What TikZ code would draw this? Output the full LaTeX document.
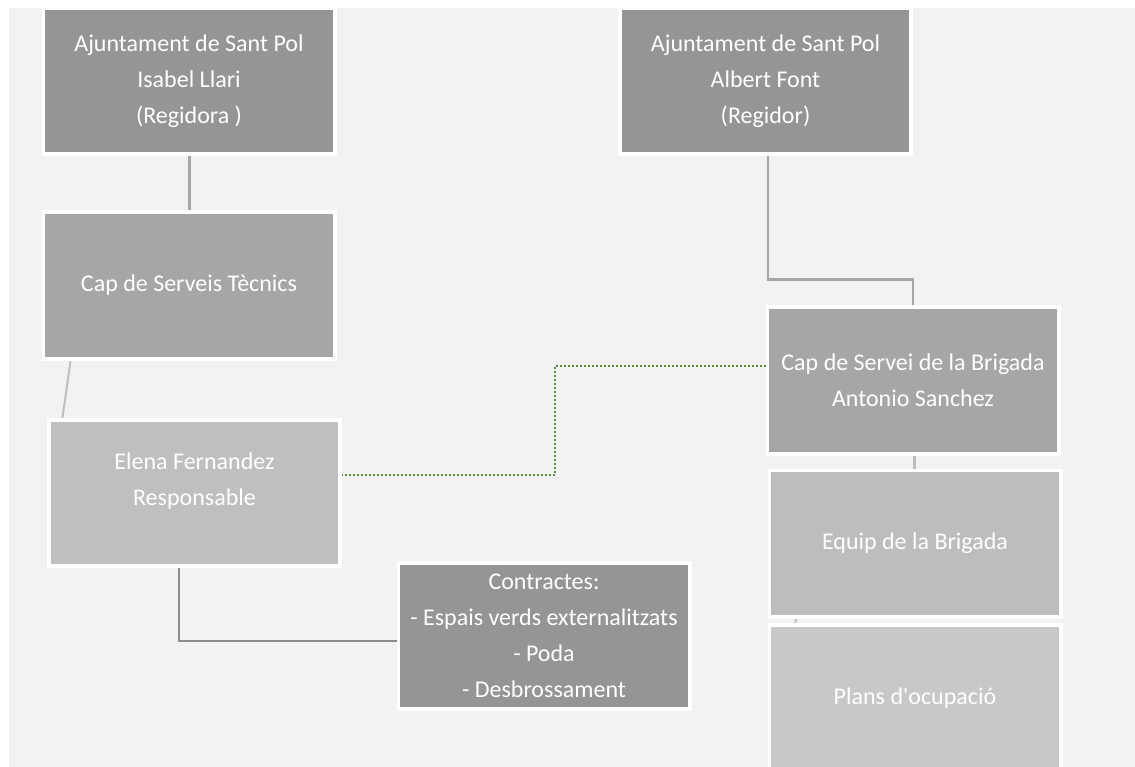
\documentclass[tikz,border=0pt]{standalone}
\usepackage{fontspec}
\setmainfont{Carlito}[Ligatures=TeXOff]
\begin{document}
\begin{tikzpicture}[x=1pt,y=-1pt,
  box/.style={draw=white, line width=2.5pt, minimum width=290pt, minimum height=145pt,
    inner sep=0pt, align=center, text=white, font=\fontsize{24}{36}\selectfont},
  conn/.style={line width=2.5pt, color=black!35},
  green link/.style={line width=2.5pt, dash pattern=on 2pt off 2pt}]
\useasboundingbox (0,0) rectangle (1135,767);
\clip (0,0) rectangle (1135,767);
\definecolor{bgc}{HTML}{F2F2F2}
\definecolor{dk}{HTML}{959595}
\definecolor{md}{HTML}{A6A6A6}
\definecolor{lt}{HTML}{BFBFBF}
\definecolor{eq}{HTML}{BDBDBD}
\definecolor{pl}{HTML}{C8C8C8}
\definecolor{grn}{HTML}{5E8F3E}
\fill[bgc] (9,8) rectangle (1135,767);
% nodes
\node[box, fill=dk] (isabel) at (189,81) {Ajuntament de Sant Pol\\Isabel Llari\\(Regidora )};
\node[box, fill=dk] (albert) at (765.5,81) {Ajuntament de Sant Pol\\Albert Font\\(Regidor)};
\node[box, fill=md] (cap) at (189,285.5) {Cap de Serveis Tècnics};
\node[box, fill=lt] (elena) at (194.5,493) {};
\node[align=center, text=white, font=\fontsize{24}{36}\selectfont, inner sep=0pt] (elenatxt) at (194.5,481) {Elena Fernandez\\Responsable};
\node[box, fill=dk] (contr) at (544,636) {Contractes:\\- Espais verds externalitzats\\- Poda\\- Desbrossament};
\node[box, fill=md] (brig) at (913,380.5) {Cap de Servei de la Brigada\\Antonio Sanchez};
\node[box, fill=eq] (equip) at (915,543.5) {Equip de la Brigada};
\node[box, fill=pl] (plans) at (915,698) {Plans d'ocupació};
% connectors
\coordinate (g1) at (555,475);
\coordinate (g2) at (555,366);
\draw[conn, line width=3pt] (isabel.south) -- (cap.north);
\draw[conn] ([xshift=2.5pt]albert.south) -- ++(0,125) -| (brig.north);
\draw[conn, line width=2pt, color=lt] ([xshift=28pt]cap.south west) -- ([xshift=14pt]elena.north west);
\draw[conn, line width=2pt, color=black!45] ([xshift=131pt,yshift=-1pt]elena.south west) |- ([yshift=-5pt]contr.west);
\draw[green link, color=grn] ([yshift=18pt]elena.east) -- (g1) -- (g2) -- ([yshift=14.5pt]brig.west);
\draw[conn, line width=3pt, color=eq] ([xshift=1pt]brig.south) -- ([xshift=1pt]brig.south |- equip.north);
\draw[conn, line width=2pt, color=lt] ([xshift=28pt]equip.south west) -- ([xshift=26pt]plans.north west);
% redraw white borders over connector ends
\foreach \n in {isabel,albert,cap,elena,contr,brig,equip,plans}
  \draw[white, line width=2.5pt] (\n.north west) rectangle (\n.south east);
\end{tikzpicture}
\end{document}
